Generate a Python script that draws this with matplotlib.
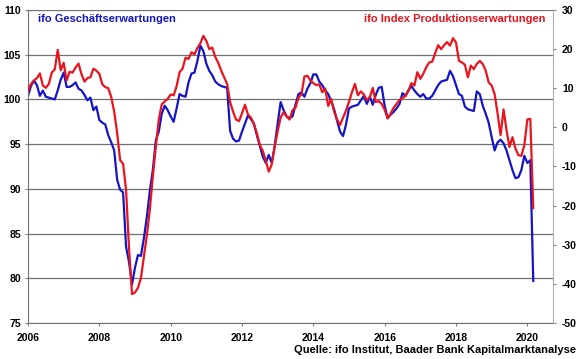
import numpy as np
import matplotlib.pyplot as plt
from matplotlib.ticker import FuncFormatter

# monthly values Jan 2006 - Mar 2020
start_year = 2006
geschaeft = [
    100.4, 101.5, 102.1, 101.6, 100.4, 101.0, 100.3, 100.2, 100.1, 100.0, 101.0, 102.2,  # 2006
    103.0, 101.4, 101.4, 101.6, 101.9, 101.2, 101.0, 100.5, 99.9, 100.2, 98.8, 99.2,     # 2007
    97.7, 97.4, 97.2, 96.0, 95.2, 94.3, 91.0, 89.9, 89.6, 83.5, 81.8, 79.3,              # 2008
    81.2, 82.6, 82.5, 84.5, 86.9, 89.8, 92.1, 95.4, 96.4, 98.4, 99.3, 98.8,              # 2009
    98.1, 97.5, 99.0, 100.6, 100.4, 100.3, 101.9, 102.9, 103.0, 104.3, 106.0, 105.4,     # 2010
    104.0, 103.2, 102.7, 102.0, 101.7, 101.5, 101.4, 101.3, 96.5, 95.6, 95.3, 95.4,      # 2011
    96.4, 97.3, 98.2, 97.8, 97.3, 96.0, 94.8, 93.6, 92.9, 93.8, 92.9, 94.8,              # 2012
    97.3, 99.7, 98.8, 98.1, 97.9, 98.1, 99.4, 100.6, 100.8, 100.3, 101.2, 101.8,         # 2013
    102.8, 102.8, 102.0, 101.6, 101.0, 100.6, 99.8, 98.9, 97.6, 96.4, 95.9, 97.2,        # 2014
    99.0, 99.2, 99.3, 99.4, 99.9, 100.4, 99.5, 100.3, 99.4, 100.5, 101.3, 101.4,         # 2015
    99.3, 97.9, 98.3, 98.6, 99.0, 99.5, 100.7, 100.4, 101.0, 101.5, 101.0, 100.6,        # 2016
    100.3, 100.6, 100.1, 100.1, 100.4, 101.0, 101.6, 102.0, 102.1, 102.2, 103.2, 102.6,  # 2017
    101.6, 100.6, 100.4, 99.2, 98.9, 98.8, 98.7, 100.9, 100.6, 99.3, 98.4, 97.4,         # 2018
    95.8, 94.3, 95.2, 95.5, 95.1, 94.3, 93.2, 92.1, 91.2, 91.3, 92.1, 93.7,              # 2019
    92.9, 93.2, 79.7,                                                                    # 2020
]
produktion = [
    9.4, 11.1, 12.0, 12.6, 13.8, 10.7, 10.1, 11.1, 14.0, 14.8, 19.8, 14.6,       # 2006
    16.5, 12.0, 14.2, 14.0, 15.3, 16.3, 13.6, 11.7, 12.6, 12.8, 15.0, 14.5,      # 2007
    13.7, 11.0, 10.3, 10.0, 7.8, 4.0, -1.5, -8.4, -9.3, -16.0, -31.0, -42.6,     # 2008
    -42.2, -41.0, -38.5, -33.0, -27.5, -21.0, -12.5, -5.0, 2.0, 5.9, 6.6, 7.3,   # 2009
    8.4, 8.2, 10.5, 14.1, 15.0, 17.8, 17.5, 19.2, 18.7, 20.3, 21.5, 23.4,        # 2010
    22.1, 20.0, 20.4, 18.0, 16.5, 14.5, 12.8, 11.1, 6.5, 4.0, 2.0, 1.6,          # 2011
    3.6, 5.8, 3.3, 2.5, 0.8, -1.5, -4.5, -6.0, -8.5, -11.3, -9.5, -5.0,          # 2012
    -1.0, 2.5, 3.9, 2.8, 2.0, 4.4, 5.0, 7.6, 8.4, 13.0, 13.2, 12.0,              # 2013
    11.3, 10.8, 11.0, 9.0, 9.9, 5.5, 7.3, 4.0, 2.0, 0.6, 2.5, 4.3,               # 2014
    6.5, 9.0, 11.1, 8.2, 9.2, 8.4, 7.0, 7.7, 10.1, 6.5, 6.7, 6.0,                # 2015
    4.5, 2.3, 3.5, 5.0, 6.0, 7.0, 7.5, 8.0, 9.4, 11.3, 10.7, 14.1,               # 2016
    12.4, 13.7, 15.4, 16.6, 16.8, 19.0, 21.0, 20.0, 21.0, 21.8, 20.9, 22.8,      # 2017
    21.7, 17.0, 16.6, 16.0, 12.8, 15.8, 14.9, 16.2, 17.0, 16.2, 14.5, 11.5,      # 2018
    10.7, 8.5, 3.5, -2.0, 4.6, -0.7, -5.0, -2.5, -5.4, -7.1, -7.3, -4.5,         # 2019
    2.0, 2.2, -20.6,                                                             # 2020
]
year_ticks = [2006, 2008, 2010, 2012, 2014, 2016, 2018, 2020]
left_ticks = [75, 80, 85, 90, 95, 100, 105, 110]
right_ticks = [-50, -40, -30, -20, -10, 0, 10, 20, 30]

plt.rcParams['font.family'] = ['Liberation Sans', 'DejaVu Sans']
plt.rcParams['font.weight'] = 'bold'
plt.rcParams['axes.unicode_minus'] = False

blue = '#1414c8'
red = '#e8141e'

fig = plt.figure(figsize=(5.8, 3.59), dpi=100)
ax = fig.add_axes([28 / 580, 1 - 323 / 359, (553 - 28) / 580, (323 - 10) / 359])
ax2 = ax.twinx()

t = start_year + np.arange(len(geschaeft)) / 12
ax.plot(t, geschaeft, color=blue, lw=1.6, solid_joinstyle='round')
ax2.plot(t[:len(produktion)], produktion, color=red, lw=1.6, solid_joinstyle='round')

ax.set_xlim(2006, 2020.72)
ax.set_ylim(75, 110)
ax2.set_ylim(-50, 30)
ax.set_xticks(year_ticks)
ax.set_yticks(left_ticks)
ax2.set_yticks(right_ticks)
ax.yaxis.set_major_formatter(FuncFormatter(lambda v, p: '%d' % v))
ax2.yaxis.set_major_formatter(FuncFormatter(lambda v, p: '%d' % v))

ax.yaxis.grid(True, color='#707070', lw=0.9)
ax.set_axisbelow(True)

for a in (ax, ax2):
    a.spines['top'].set_visible(False)
    a.tick_params(labelsize=7.5, length=2, width=0.8, color='#808080')
ax.spines['left'].set_color('#707070')
ax.spines['bottom'].set_color('#707070')
ax.spines['right'].set_visible(False)
ax2.spines['left'].set_visible(False)
ax2.spines['bottom'].set_visible(False)
ax2.spines['right'].set_color('#b0b0b0')
ax.tick_params(axis='y', pad=3)
ax2.tick_params(axis='y', pad=4.5)
ax.tick_params(axis='x', pad=5)

ax.text(0.02, 0.986, 'ifo Geschäftserwartungen', transform=ax.transAxes,
        color=blue, fontsize=8, fontweight='bold', va='top', ha='left')
ax.text(0.985, 0.986, 'ifo Index Produktionserwartungen', transform=ax.transAxes,
        color=red, fontsize=8, fontweight='bold', va='top', ha='right')
fig.text(0.993, 0.012, 'Quelle: ifo Institut, Baader Bank Kapitalmarktanalyse',
         fontsize=8, fontweight='bold', ha='right', va='bottom')

fig.savefig('out.png', dpi=100)
